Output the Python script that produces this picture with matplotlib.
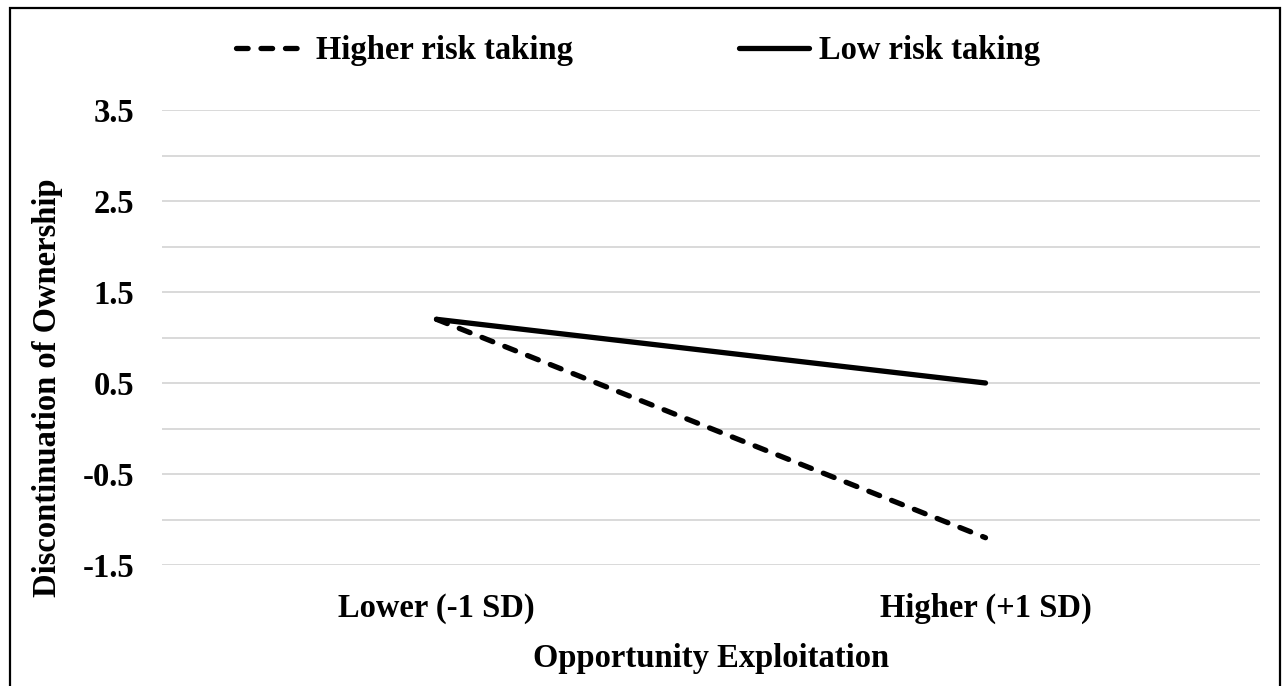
import matplotlib
matplotlib.use("Agg")
import matplotlib.pyplot as plt
from matplotlib.patches import Rectangle
from matplotlib.ticker import MultipleLocator

categories = ["Lower (-1 SD)", "Higher (+1 SD)"]
higher_risk = [1.2, -1.2]
low_risk = [1.2, 0.5]
yticks = [-1.5, -0.5, 0.5, 1.5, 2.5, 3.5]

plt.rcParams['font.family'] = ['Liberation Serif', 'DejaVu Serif']
plt.rcParams['font.weight'] = 'bold'
FS = 23.5

W, H = 1285, 686
fig = plt.figure(figsize=(W / 100, H / 100), dpi=100)
ax = fig.add_axes([162 / W, 1 - 565 / H, (1260 - 162) / W, (565 - 110) / H])

x = list(range(len(categories)))
ax.plot(x, higher_risk, color='black', lw=3.8, dashes=(2.2, 2.44),
        dash_capstyle='round', solid_capstyle='round', label='Higher risk taking')
ax.plot(x, low_risk, color='black', lw=3.8, solid_capstyle='round',
        label='Low risk taking')

ax.set_xlim(-0.5, 1.5)
ax.set_ylim(-1.5, 3.5)
ax.set_xticks(x)
ax.set_xticklabels(categories, fontsize=FS, fontweight='bold')
ax.set_yticks(yticks)
ax.set_yticklabels([f"{v:.1f}" for v in yticks], fontsize=FS, fontweight='bold')
ax.yaxis.set_minor_locator(MultipleLocator(0.5))
ax.grid(True, which='both', axis='y', color='#d9d9d9', lw=1.4)
ax.set_axisbelow(True)
ax.tick_params(axis='both', which='both', length=0)
ax.tick_params(axis='y', pad=20)
ax.tick_params(axis='x', pad=20)
for s in ax.spines.values():
    s.set_visible(False)

ax.set_xlabel("Opportunity Exploitation", fontsize=FS, fontweight='bold', labelpad=14)
ax.set_ylabel("Discontinuation of Ownership", fontsize=FS, fontweight='bold')
ax.yaxis.label.set_va('center')
ax.yaxis.set_label_coords((48 - 162) / (1260 - 162), (565 - 388) / (565 - 110))

leg = fig.legend(loc='center', bbox_to_anchor=(638 / W, 1 - 51 / H), ncol=2,
                 frameon=False, prop={'size': FS, 'weight': 'bold'},
                 handlelength=2.15, handletextpad=0.3, columnspacing=5.1,
                 borderpad=0, borderaxespad=0)

fig.patches.append(Rectangle((10 / W, -0.05), (1280 - 10) / W, 1.05 - 8 / H,
                             transform=fig.transFigure, fill=False,
                             edgecolor='black', lw=1.6, zorder=10))

fig.savefig("out.png", dpi=100)
